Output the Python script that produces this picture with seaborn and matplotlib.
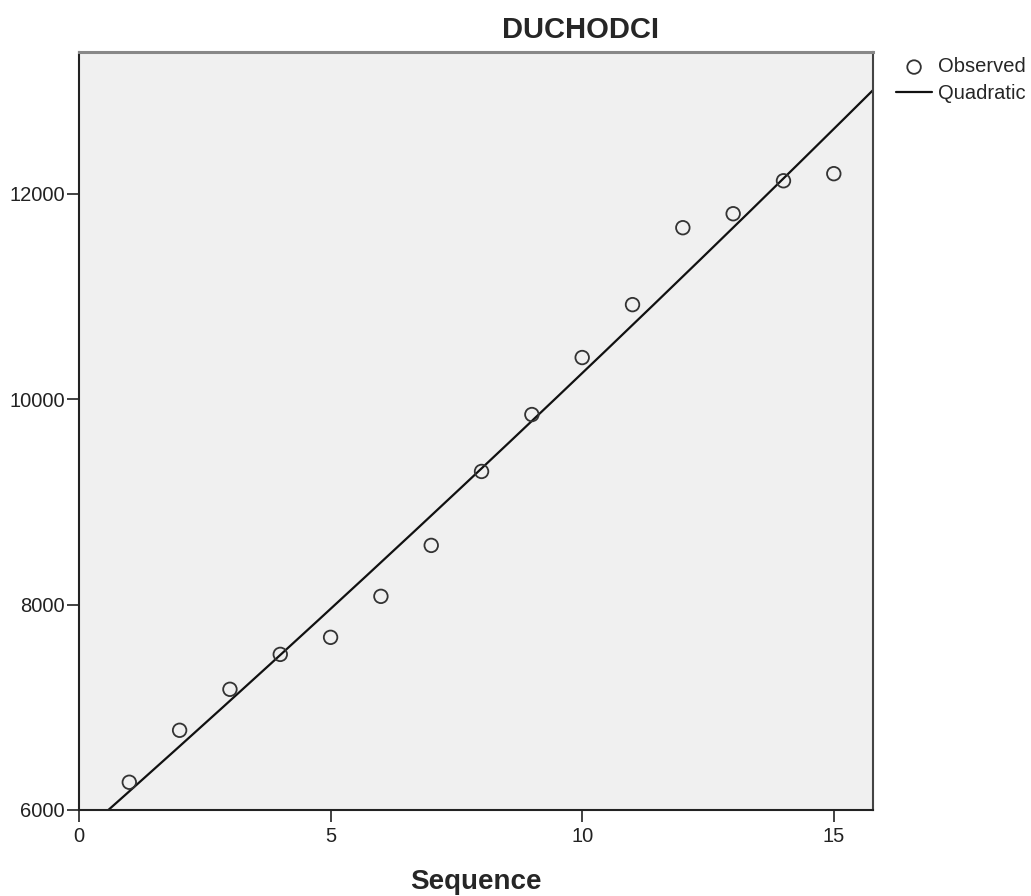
import numpy as np
import pandas as pd
import matplotlib
matplotlib.use("Agg")
import matplotlib.pyplot as plt
import seaborn as sns

# Observed series (sequence number vs. value)
sequence = [1, 2, 3, 4, 5, 6, 7, 8, 9, 10, 11, 12, 13, 14, 15]
observed = [6270, 6776, 7175, 7515, 7681, 8080, 8576, 9296, 9850,
            10405, 10920, 11669, 11805, 12126, 12195]

title = "DUCHODCI"
x_label = "Sequence"
x_ticks = [0, 5, 10, 15]
y_ticks = [6000, 8000, 10000, 12000]

sns.set_theme(style="ticks")
plt.rcParams["font.family"] = ["Liberation Sans", "DejaVu Sans"]

df = pd.DataFrame({"Sequence": sequence, "Observed": observed})

# Quadratic trend fitted to the observed values
coef = np.polyfit(df["Sequence"], df["Observed"], 2)
x_fit = np.linspace(0, 15.78, 200)
fit = pd.DataFrame({"Sequence": x_fit, "Quadratic": np.polyval(coef, x_fit)})

fig = plt.figure(figsize=(10.31, 8.96), dpi=100)
ax = fig.add_axes([0.0766, 0.096, 0.7702, 0.846])
ax.set_facecolor("#f0f0f0")

sns.lineplot(data=fit, x="Sequence", y="Quadratic", ax=ax, color="#111111",
             linewidth=1.6, label="Quadratic", legend=False, zorder=2)
sns.scatterplot(data=df, x="Sequence", y="Observed", ax=ax, marker="o",
                s=95, facecolor="none", edgecolor="#333333", linewidth=1.3,
                label="Observed", legend=False, zorder=3)

ax.set_xlim(0, 15.78)
ax.set_ylim(6000, 13380)
ax.set_xticks(x_ticks)
ax.set_yticks(y_ticks)
ax.tick_params(axis="both", direction="out", length=8.5, width=1.2,
               color="#222222", labelsize=14.5, labelcolor="#222222")
ax.tick_params(axis="y", pad=1.5)
ax.tick_params(axis="x", pad=4)

for side in ["left", "bottom"]:
    ax.spines[side].set_color("#222222")
    ax.spines[side].set_linewidth(1.5)
ax.spines["right"].set_color("#444444")
ax.spines["right"].set_linewidth(1.5)
ax.spines["top"].set_color("#888888")
ax.spines["top"].set_linewidth(2.2)

ax.set_xlabel(x_label, fontsize=20, fontweight="bold", labelpad=16)
ax.set_ylabel("")

fig.text(0.5635, 0.967, title, ha="center", va="center",
         fontsize=21, fontweight="bold")

handles, labels = ax.get_legend_handles_labels()
order = [labels.index("Observed"), labels.index("Quadratic")]
fig.legend([handles[i] for i in order], [labels[i] for i in order],
           loc="upper left", bbox_to_anchor=(0.869, 0.936), frameon=False,
           fontsize=14.5, handlelength=1.8, handletextpad=0.3,
           labelspacing=0.4, borderaxespad=0, borderpad=0)

fig.savefig("out.png", dpi=100, facecolor="white")
